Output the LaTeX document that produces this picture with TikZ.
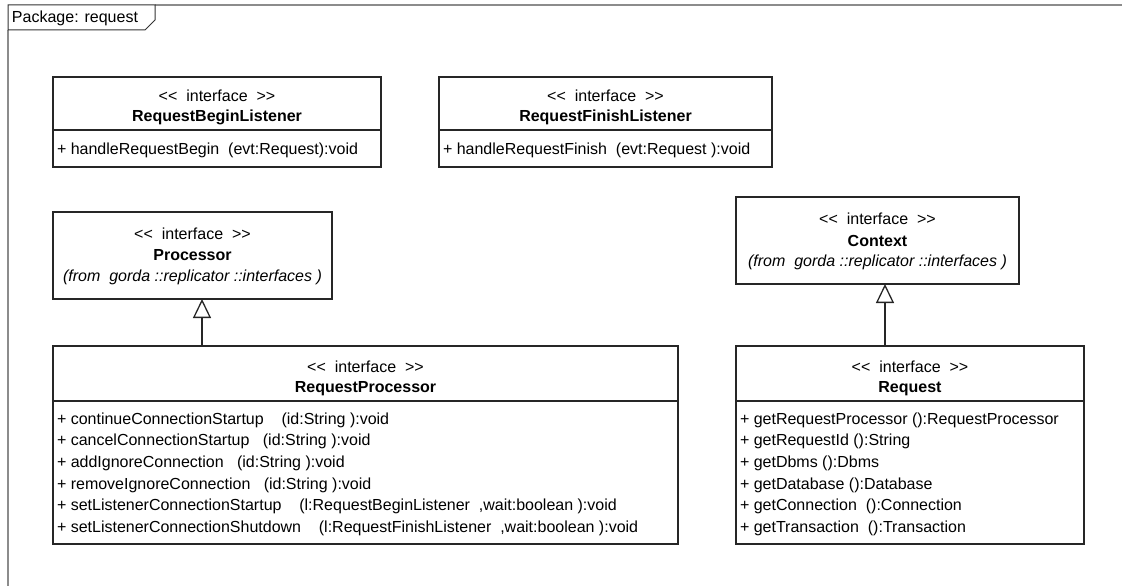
\documentclass[tikz,border=0pt]{standalone}
\usepackage{fontspec}
\setmainfont{Liberation Sans}
\usetikzlibrary{arrows.meta}

% stereotype label with the angle brackets kept apart
\newcommand{\ifacestereo}{<\kern0pt<\ \ interface\ \ >\kern0pt>}

\begin{document}
\begin{tikzpicture}[x=1pt, y=-1pt,
  every node/.style={font=\fontsize{16}{20}\selectfont, inner sep=0pt, outer sep=0pt},
  frameline/.style={draw=black!45, line width=1.4pt},
  tabbox/.style={draw=black!80, line width=1pt, fill=white},
  umlbox/.style={draw=black!85, line width=1.3pt, anchor=north west, fill=white},
  divider/.style={draw=black!85, line width=1.3pt},
  ctext/.style={anchor=center},
  mtext/.style={anchor=west},
  generalize/.style={draw=black!85, line width=1.3pt,
    -{Triangle[open, length=19pt, width=18pt, line width=1.3pt]}}
]
\useasboundingbox (0,0) rectangle (1122,586);

% package frame and its name tab
\draw[frameline] (155,5) -- (1122,5);
\draw[frameline] (8,30) -- (8,586);
\draw[tabbox] (8,5) -- (155,5) -- (155,20) -- (145,30) -- (8,30) -- cycle;
\node[mtext] (pkg) at (12,18) {Package: request};

% RequestBeginListener
\node[umlbox, minimum width=328pt, minimum height=90pt] (beg) at (53,77) {};
\draw[divider] (53,130) -- (381,130);
\node[ctext] (begS) at (217,96) {\ifacestereo};
\node[ctext] (begN) at (217,117) {\textbf{RequestBeginListener}};
\node[mtext] (begM) at (57,150) {+ handleRequestBegin\ \ (evt:Request):void};

% RequestFinishListener
\node[umlbox, minimum width=333pt, minimum height=90pt] (fin) at (439,77) {};
\draw[divider] (439,130) -- (772,130);
\node[ctext] (finS) at (605.5,96) {\ifacestereo};
\node[ctext] (finN) at (605.5,117) {\textbf{RequestFinishListener}};
\node[mtext] (finM) at (443,150) {+ handleRequestFinish\ \ (evt:Request ):void};

% Processor
\node[umlbox, minimum width=279pt, minimum height=87pt] (proc) at (53,212) {};
\node[ctext] (procS) at (192.5,234) {\ifacestereo};
\node[ctext] (procN) at (192.5,255.5) {\textbf{Processor}};
\node[ctext] (procF) at (192.5,277) {\textit{(from\ \ gorda ::replicator ::interfaces )}};

% Context
\node[umlbox, minimum width=283pt, minimum height=87pt] (ctx) at (736,197) {};
\node[ctext] (ctxS) at (877.5,219) {\ifacestereo};
\node[ctext] (ctxN) at (877.5,240.5) {\textbf{Context}};
\node[ctext] (ctxF) at (877.5,262) {\textit{(from\ \ gorda ::replicator ::interfaces )}};

% RequestProcessor
\node[umlbox, minimum width=625pt, minimum height=198pt] (rp) at (53,346) {};
\draw[divider] (53,401) -- (678,401);
\node[ctext] (rpS) at (365.5,367) {\ifacestereo};
\node[ctext] (rpN) at (365.5,389) {\textbf{RequestProcessor}};
\node[mtext] (rp1) at (57,420) {+ continueConnectionStartup\ \ \ \ (id:String ):void};
\node[mtext] (rp2) at (57,441.7) {+ cancelConnectionStartup\ \ \ (id:String ):void};
\node[mtext] (rp3) at (57,463.4) {+ addIgnoreConnection\ \ \ (id:String ):void};
\node[mtext] (rp4) at (57,485.1) {+ removeIgnoreConnection\ \ \ (id:String ):void};
\node[mtext] (rp5) at (57,506.8) {+ setListenerConnectionStartup\ \ \ \ (l:RequestBeginListener\ \ ,wait:boolean ):void};
\node[mtext] (rp6) at (57,528.5) {+ setListenerConnectionShutdown\ \ \ \ (l:RequestFinishListener\ \ ,wait:boolean ):void};

% Request
\node[umlbox, minimum width=348pt, minimum height=198pt] (req) at (736,346) {};
\draw[divider] (736,401) -- (1084,401);
\node[ctext] (reqS) at (910,367) {\ifacestereo};
\node[ctext] (reqN) at (910,389) {\textbf{Request}};
\node[mtext] (rq1) at (740,420) {+ getRequestProcessor ():RequestProcessor};
\node[mtext] (rq2) at (740,441.7) {+ getRequestId ():String};
\node[mtext] (rq3) at (740,463.4) {+ getDbms ():Dbms};
\node[mtext] (rq4) at (740,485.1) {+ getDatabase ():Database};
\node[mtext] (rq5) at (740,506.8) {+ getConnection\ \ ():Connection};
\node[mtext] (rq6) at (740,528.5) {+ getTransaction\ \ ():Transaction};

% generalization connectors
\coordinate (procJoin) at (202,299);
\coordinate (ctxJoin) at (885,284);
\draw[generalize] (rp.north -| procJoin) -- (procJoin);
\draw[generalize] (req.north -| ctxJoin) -- (ctxJoin);
\end{tikzpicture}
\end{document}
